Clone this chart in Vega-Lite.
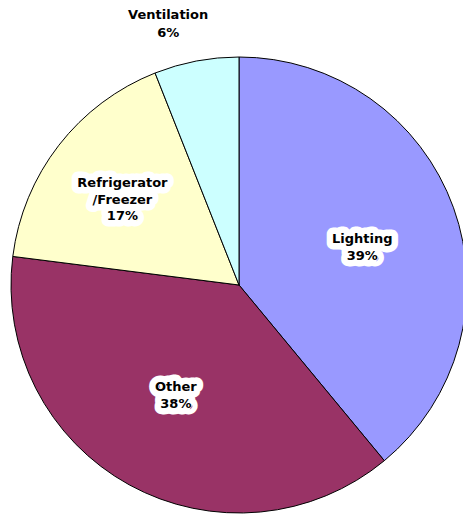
{
  "$schema": "https://vega.github.io/schema/vega-lite/v6.json",
  "width": 448,
  "height": 456,
  "autosize": {"type": "none"},
  "padding": {"left": 15, "top": 57, "right": 0, "bottom": 3},
  "background": "white",
  "config": {"view": {"stroke": null}},
  "data": {"values": [
    {"category": "Lighting", "value": 39, "label": "Lighting\n39%"},
    {"category": "Other", "value": 38, "label": "Other\n38%"},
    {"category": "Refrigerator/Freezer", "value": 17, "label": "Refrigerator\n/Freezer\n17%"},
    {"category": "Ventilation", "value": 6, "label": "Ventilation\n6%"}
  ]},
  "encoding": {
    "theta": {"field": "value", "type": "quantitative", "stack": true, "scale": {"domain": [0, 100]}}
  },
  "layer": [
    {
      "mark": {"type": "arc", "outerRadius": 228, "stroke": "black", "strokeWidth": 1},
      "encoding": {
        "color": {"field": "category", "type": "nominal", "legend": null,
          "scale": {"domain": ["Lighting", "Other", "Refrigerator/Freezer", "Ventilation"],
                    "range": ["#9999FF", "#993366", "#FFFFCC", "#CCFFFF"]}}
      }
    },
    {
      "mark": {"type": "text", "font": "DejaVu Sans", "fontWeight": "bold", "fontSize": 13, "lineBreak": "\n", "lineHeight": 17, "align": "center", "baseline": "middle", "fill": "white", "stroke": "white", "strokeWidth": 13, "strokeJoin": "round", "strokeCap": "round", "dy": -2},
      "encoding": {
        "detail": {"field": "category"},
        "radius": {"value": 131},
        "text": {"condition": {"test": "datum.category === 'Lighting'", "field": "label"}, "value": ""}
      }
    },
    {
      "mark": {"type": "text", "font": "DejaVu Sans", "fontWeight": "bold", "fontSize": 13, "lineBreak": "\n", "lineHeight": 17, "align": "center", "baseline": "middle", "fill": "white", "stroke": "white", "strokeWidth": 13, "strokeJoin": "round", "strokeCap": "round", "dy": -13},
      "encoding": {
        "detail": {"field": "category"},
        "radius": {"value": 131},
        "text": {"condition": {"test": "datum.category === 'Other'", "field": "label"}, "value": ""}
      }
    },
    {
      "mark": {"type": "text", "font": "DejaVu Sans", "fontWeight": "bold", "fontSize": 13, "lineBreak": "\n", "lineHeight": 16.5, "align": "center", "baseline": "middle", "fill": "white", "stroke": "white", "strokeWidth": 13, "strokeJoin": "round", "strokeCap": "round", "dy": -13, "dx": -2},
      "encoding": {
        "detail": {"field": "category"},
        "radius": {"value": 145},
        "text": {"condition": {"test": "datum.category === 'Refrigerator/Freezer'", "field": "label"}, "value": ""}
      }
    },
    {
      "mark": {"type": "text", "font": "DejaVu Sans", "fontWeight": "bold", "fontSize": 13, "lineBreak": "\n", "lineHeight": 17, "align": "center", "baseline": "middle", "fill": "black", "dy": -2},
      "encoding": {
        "detail": {"field": "category"},
        "radius": {"value": 131},
        "text": {"condition": {"test": "datum.category === 'Lighting'", "field": "label"}, "value": ""}
      }
    },
    {
      "mark": {"type": "text", "font": "DejaVu Sans", "fontWeight": "bold", "fontSize": 13, "lineBreak": "\n", "lineHeight": 17, "align": "center", "baseline": "middle", "fill": "black", "dy": -13},
      "encoding": {
        "detail": {"field": "category"},
        "radius": {"value": 131},
        "text": {"condition": {"test": "datum.category === 'Other'", "field": "label"}, "value": ""}
      }
    },
    {
      "mark": {"type": "text", "font": "DejaVu Sans", "fontWeight": "bold", "fontSize": 13, "lineBreak": "\n", "lineHeight": 16.5, "align": "center", "baseline": "middle", "fill": "black", "dy": -13, "dx": -2},
      "encoding": {
        "detail": {"field": "category"},
        "radius": {"value": 145},
        "text": {"condition": {"test": "datum.category === 'Refrigerator/Freezer'", "field": "label"}, "value": ""}
      }
    },
    {
      "mark": {"type": "text", "font": "DejaVu Sans", "fontWeight": "bold", "fontSize": 13, "lineBreak": "\n", "lineHeight": 18, "align": "center", "baseline": "middle", "fill": "black", "dx": -21, "dy": -9},
      "encoding": {
        "detail": {"field": "category"},
        "radius": {"value": 266},
        "text": {"condition": {"test": "datum.category === 'Ventilation'", "field": "label"}, "value": ""}
      }
    }
  ]
}
